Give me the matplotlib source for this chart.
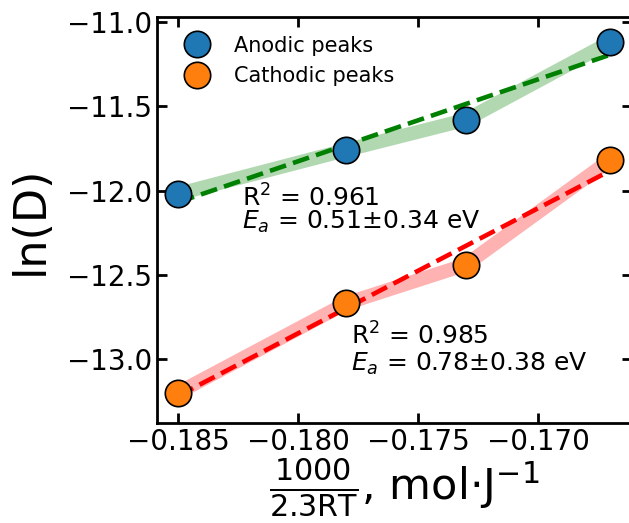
import numpy as np
import matplotlib
matplotlib.use("Agg")
from matplotlib import pyplot as plt

# 1000/(2.3RT) values and ln(D) for both peak types
x = [-0.185, -0.178, -0.173, -0.167]
ln_d_anodic = [-12.02, -11.76, -11.58, -11.12]
ln_d_cathodic = [-13.20, -12.67, -12.44, -11.82]

fit_text_anodic = "R$^2$ = 0.961\n$E_a$ = 0.51±0.34 eV"
fit_text_cathodic = "R$^2$ = 0.985\n$E_a$ = 0.78±0.38 eV"

fig = plt.figure(figsize=(6.29, 5.23), dpi=100)
ax = fig.add_axes([0.2496, 0.1912, 0.7552, 0.7763])

xs = np.array(x)
for y, band, mcol, lab in [(ln_d_anodic, "green", "C0", "Anodic peaks"),
                           (ln_d_cathodic, "red", "C1", "Cathodic peaks")]:
    y = np.array(y)
    k, b = np.polyfit(xs, y, 1)
    ax.plot(xs, y, color=band, alpha=0.3, lw=10, solid_capstyle="butt", zorder=1)
    ax.plot(xs, k * xs + b, "--", color=band, lw=3.3, zorder=2)
    ax.plot(xs, y, "o", ms=19, mfc=mcol, mec="k", mew=1.2, label=lab, zorder=3)

ax.text(-0.18232, -11.965, fit_text_anodic, fontsize=18, va="top", ha="left",
        linespacing=0.85)
ax.text(-0.17778, -12.785, fit_text_cathodic, fontsize=18, va="top", ha="left",
        linespacing=1.02)

ax.set_xlim(-0.185875, -0.16608)
ax.set_ylim(-13.38, -10.97)
ax.set_xticks([-0.185, -0.180, -0.175, -0.170])
ax.set_yticks([-13.0, -12.5, -12.0, -11.5, -11.0])

ax.tick_params(direction="in", top=True, right=True, length=7, width=2,
               labelsize=20)
for s in ax.spines.values():
    s.set_linewidth(2)

ax.set_xlabel(r"$\frac{1000}{2.3\mathrm{RT}}$, mol$\cdot$J$^{-1}$", fontsize=31)
ax.xaxis.set_label_coords(0.52, -0.083, transform=ax.transAxes)
ax.xaxis.label.set_va("top")
ax.set_ylabel("ln(D)", fontsize=32, labelpad=11)

ax.legend(loc="upper left", frameon=False, fontsize=15)

fig.savefig("out.png", dpi=100)
